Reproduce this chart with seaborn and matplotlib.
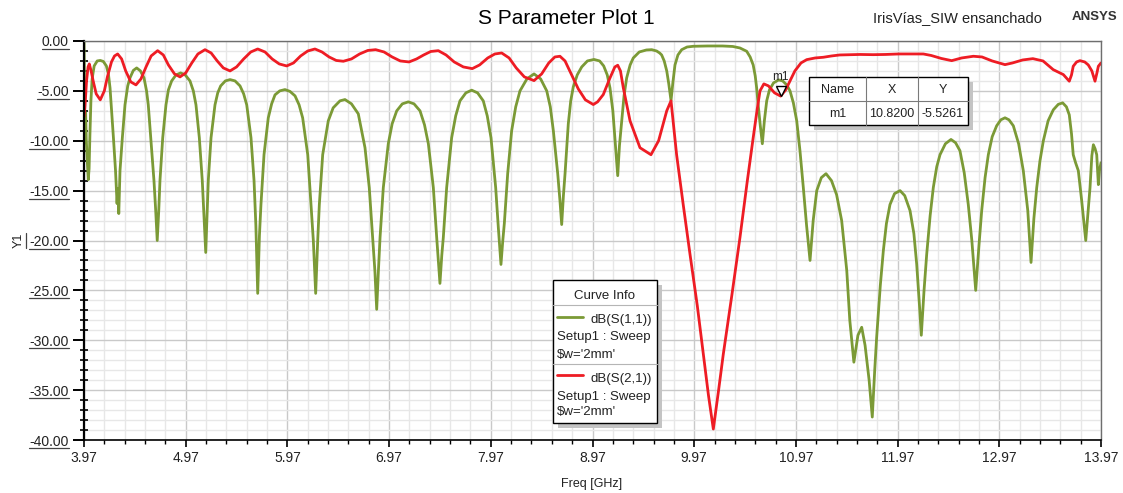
import matplotlib
matplotlib.use("Agg")
import matplotlib.pyplot as plt
import matplotlib.transforms as mtransforms
from matplotlib.lines import Line2D
from matplotlib.patches import Rectangle
from matplotlib.ticker import FixedLocator, MultipleLocator
import pandas as pd
import seaborn as sns

# ---------------------------------------------------------------- data
s11_freq = [
    3.970, 3.975, 3.980, 3.986, 3.992, 4.002, 4.012, 4.020, 4.028, 4.038,
    4.050, 4.070, 4.100, 4.130, 4.160, 4.190, 4.210, 4.226, 4.245, 4.260,
    4.280, 4.295, 4.302, 4.312, 4.324, 4.347, 4.373, 4.400, 4.422, 4.455,
    4.488, 4.525, 4.560, 4.585, 4.602, 4.626, 4.658, 4.675, 4.690, 4.705,
    4.717, 4.744, 4.776, 4.800, 4.832, 4.875, 4.920, 4.965, 5.012, 5.045,
    5.071, 5.104, 5.133, 5.150, 5.167, 5.180, 5.192, 5.219, 5.258, 5.285,
    5.314, 5.360, 5.406, 5.455, 5.504, 5.540, 5.570, 5.612, 5.642, 5.660,
    5.678, 5.695, 5.710, 5.740, 5.782, 5.815, 5.848, 5.895, 5.946, 5.995,
    6.045, 6.085, 6.120, 6.170, 6.202, 6.225, 6.248, 6.268, 6.284, 6.317,
    6.372, 6.420, 6.487, 6.536, 6.600, 6.667, 6.733, 6.775, 6.808, 6.830,
    6.848, 6.865, 6.881, 6.913, 6.962, 7.000, 7.045, 7.100, 7.159, 7.215,
    7.274, 7.318, 7.356, 7.405, 7.438, 7.470, 7.488, 7.503, 7.536, 7.585,
    7.625, 7.667, 7.725, 7.782, 7.840, 7.896, 7.935, 7.972, 8.018, 8.044,
    8.070, 8.088, 8.103, 8.136, 8.175, 8.215, 8.257, 8.325, 8.395, 8.460,
    8.520, 8.555, 8.585, 8.628, 8.650, 8.667, 8.684, 8.700, 8.732, 8.756,
    8.781, 8.820, 8.864, 8.920, 8.985, 9.040, 9.080, 9.115, 9.142, 9.170,
    9.190, 9.208, 9.218, 9.235, 9.257, 9.280, 9.306, 9.340, 9.371, 9.430,
    9.500, 9.552, 9.600, 9.630, 9.650, 9.675, 9.700, 9.720, 9.742, 9.760,
    9.781, 9.810, 9.847, 9.900, 9.961, 10.100, 10.250, 10.350, 10.420, 10.486,
    10.520, 10.550, 10.570, 10.584, 10.600, 10.620, 10.640, 10.660, 10.683, 10.710,
    10.750, 10.800, 10.840, 10.880, 10.912, 10.945, 10.978, 11.010, 11.043, 11.075,
    11.109, 11.140, 11.175, 11.220, 11.266, 11.320, 11.370, 11.420, 11.470, 11.500,
    11.540, 11.580, 11.617, 11.650, 11.690, 11.721, 11.745, 11.764, 11.800, 11.830,
    11.860, 11.895, 11.940, 11.994, 12.040, 12.092, 12.130, 12.158, 12.185, 12.203,
    12.230, 12.256, 12.290, 12.321, 12.355, 12.387, 12.440, 12.495, 12.540, 12.583,
    12.625, 12.665, 12.700, 12.738, 12.770, 12.797, 12.830, 12.862, 12.900, 12.944,
    12.985, 13.026, 13.065, 13.108, 13.160, 13.206, 13.250, 13.282, 13.310, 13.338,
    13.370, 13.403, 13.450, 13.501, 13.550, 13.593, 13.630, 13.658, 13.680, 13.697,
    13.720, 13.747, 13.780, 13.820, 13.840, 13.862, 13.880, 13.895, 13.912, 13.928,
    13.944, 13.955, 13.970,
]
s11_db = [
    0.00, -4.50, -10.20, -7.20, -9.80, -12.00, -13.90, -12.80, -9.50, -6.00,
    -3.80, -2.50, -2.00, -1.95, -2.05, -2.50, -3.30, -4.70, -7.50, -9.80,
    -13.00, -16.30, -14.80, -17.30, -13.00, -9.70, -6.40, -4.50, -3.70, -2.95,
    -2.70, -3.00, -3.70, -5.00, -6.40, -9.70, -14.00, -17.00, -20.00, -17.00,
    -14.00, -9.70, -6.40, -4.90, -4.00, -3.40, -3.20, -3.40, -4.00, -5.00,
    -6.40, -9.70, -14.00, -17.50, -21.20, -17.50, -14.00, -9.70, -6.40, -5.20,
    -4.50, -4.00, -3.87, -4.00, -4.50, -5.30, -6.40, -9.70, -14.00, -18.50,
    -25.30, -19.50, -16.40, -11.40, -7.70, -6.30, -5.40, -5.00, -4.87, -5.05,
    -5.50, -6.40, -7.70, -11.40, -16.40, -20.00, -25.30, -20.00, -16.40, -11.40,
    -8.00, -6.70, -6.00, -5.87, -6.30, -7.30, -10.70, -14.70, -19.70, -23.00,
    -26.90, -23.00, -19.70, -14.70, -10.30, -8.30, -7.00, -6.30, -6.10, -6.30,
    -7.00, -8.40, -10.30, -14.70, -19.70, -24.30, -21.50, -19.70, -14.70, -9.70,
    -7.50, -6.00, -5.20, -4.93, -5.20, -6.00, -7.50, -9.70, -14.70, -18.70,
    -22.40, -20.00, -18.30, -13.30, -9.00, -6.60, -5.00, -3.80, -3.30, -3.80,
    -5.00, -6.60, -9.00, -13.30, -16.00, -18.40, -15.50, -13.30, -8.30, -6.00,
    -4.60, -3.40, -2.60, -2.00, -1.85, -2.00, -2.50, -3.40, -4.70, -7.00,
    -9.70, -12.00, -13.50, -10.50, -8.00, -5.50, -3.70, -2.40, -1.70, -1.10,
    -0.90, -0.87, -1.00, -1.20, -1.40, -2.00, -3.00, -4.30, -5.97, -4.20,
    -2.40, -1.40, -0.87, -0.60, -0.53, -0.50, -0.50, -0.55, -0.70, -1.03,
    -1.60, -2.40, -3.50, -4.70, -6.50, -8.50, -10.30, -8.00, -6.00, -4.90,
    -4.20, -3.90, -4.00, -4.40, -5.00, -6.20, -8.00, -11.00, -14.70, -18.50,
    -22.00, -18.00, -15.00, -13.70, -13.30, -14.00, -15.40, -18.00, -23.00, -28.00,
    -32.20, -29.50, -28.70, -30.50, -34.00, -37.70, -33.00, -29.70, -24.50, -21.00,
    -18.30, -16.40, -15.30, -15.00, -15.50, -17.00, -19.30, -22.40, -26.50, -29.50,
    -25.00, -21.40, -17.50, -14.70, -12.60, -11.40, -10.30, -9.87, -10.20, -11.00,
    -13.20, -16.40, -20.00, -25.00, -20.50, -17.00, -13.70, -11.40, -9.60, -8.50,
    -7.90, -7.70, -7.90, -8.50, -10.30, -13.00, -17.00, -22.20, -17.80, -14.70,
    -12.00, -10.00, -8.00, -6.90, -6.35, -6.20, -6.60, -7.40, -9.30, -11.40,
    -12.20, -13.00, -16.00, -20.00, -17.50, -14.70, -11.50, -10.40, -10.80, -11.40,
    -14.40, -13.00, -12.20,
]

s21_freq = [
    3.970, 3.980, 3.995, 4.010, 4.022, 4.040, 4.060, 4.090, 4.130, 4.170,
    4.200, 4.240, 4.270, 4.301, 4.340, 4.380, 4.430, 4.481, 4.530, 4.580,
    4.630, 4.694, 4.750, 4.800, 4.860, 4.914, 4.970, 5.030, 5.090, 5.160,
    5.220, 5.280, 5.340, 5.406, 5.470, 5.540, 5.610, 5.678, 5.750, 5.820,
    5.890, 5.963, 6.030, 6.100, 6.170, 6.241, 6.310, 6.380, 6.450, 6.520,
    6.600, 6.680, 6.760, 6.838, 6.920, 7.000, 7.080, 7.166, 7.240, 7.310,
    7.380, 7.454, 7.530, 7.610, 7.700, 7.788, 7.860, 7.940, 8.010, 8.077,
    8.150, 8.220, 8.300, 8.395, 8.470, 8.540, 8.600, 8.650, 8.700, 8.760,
    8.830, 8.900, 8.978, 9.020, 9.076, 9.142, 9.190, 9.218, 9.245, 9.273,
    9.339, 9.437, 9.545, 9.620, 9.700, 9.742, 9.797, 9.862, 9.929, 10.000,
    10.060, 10.110, 10.158, 10.210, 10.256, 10.340, 10.420, 10.490, 10.550, 10.590,
    10.617, 10.655, 10.700, 10.760, 10.820, 10.870, 10.912, 10.960, 11.020, 11.076,
    11.160, 11.240, 11.320, 11.400, 11.500, 11.600, 11.730, 11.850, 11.980, 12.100,
    12.223, 12.300, 12.400, 12.502, 12.600, 12.715, 12.800, 12.900, 13.026, 13.100,
    13.200, 13.300, 13.400, 13.500, 13.600, 13.658, 13.680, 13.697, 13.730, 13.763,
    13.810, 13.845, 13.880, 13.911, 13.930, 13.944, 13.970,
]
s21_db = [
    -7.60, -6.50, -4.00, -2.60, -2.30, -3.00, -4.00, -5.30, -5.90, -5.00,
    -3.60, -2.10, -1.50, -1.30, -1.80, -3.00, -4.10, -4.40, -3.80, -2.60,
    -1.50, -0.97, -1.40, -2.40, -3.30, -3.60, -3.20, -2.20, -1.30, -0.87,
    -1.20, -2.00, -2.70, -3.00, -2.60, -1.80, -1.10, -0.80, -1.10, -1.80,
    -2.30, -2.50, -2.20, -1.50, -1.00, -0.80, -1.10, -1.60, -1.95, -2.03,
    -1.80, -1.30, -0.95, -0.87, -1.10, -1.60, -2.00, -2.10, -1.80, -1.40,
    -1.05, -0.97, -1.40, -2.10, -2.60, -2.77, -2.40, -1.70, -1.30, -1.20,
    -1.70, -2.70, -3.60, -3.97, -3.30, -2.20, -1.60, -1.53, -2.00, -3.30,
    -4.80, -5.90, -6.37, -6.10, -5.37, -3.70, -2.60, -2.43, -3.00, -4.70,
    -8.00, -10.70, -11.40, -10.00, -7.00, -6.00, -11.40, -16.40, -21.40, -26.50,
    -31.40, -35.50, -38.90, -35.00, -31.40, -25.50, -19.70, -14.20, -9.70, -6.80,
    -5.00, -4.30, -4.50, -5.20, -5.5261, -4.90, -4.00, -3.00, -2.20, -1.87,
    -1.70, -1.63, -1.50, -1.40, -1.37, -1.35, -1.37, -1.35, -1.30, -1.30,
    -1.30, -1.45, -1.75, -1.97, -1.70, -1.53, -1.60, -2.00, -2.37, -2.20,
    -1.90, -1.77, -2.00, -2.87, -3.37, -4.03, -3.40, -2.53, -2.10, -1.97,
    -2.10, -2.40, -3.00, -4.03, -3.20, -2.53, -2.20,
]

curve_names = ["dB(S(1,1))", "dB(S(2,1))"]
curve_colors = ["#7b9a36", "#ee1c24"]
setup_text = "Setup1 : Sweep"
param_text = "$w='2mm'"

marker_name = "m1"
marker_freq = 10.82
marker_db = -5.5261

x_ticks = [3.97, 4.97, 5.97, 6.97, 7.97, 8.97, 9.97, 10.97, 11.97, 12.97, 13.97]
x_tick_labels = ["3.97", "4.97", "5.97", "6.97", "7.97", "8.97", "9.97",
                 "10.97", "11.97", "12.97", "13.97"]
y_ticks = [0, -5, -10, -15, -20, -25, -30, -35, -40]
y_tick_labels = ["0.00", "-5.00", "-10.00", "-15.00", "-20.00", "-25.00",
                 "-30.00", "-35.00", "-40.00"]

title_text = "S Parameter Plot 1"
design_text = "IrisVías_SIW ensanchado"
brand_text = "ANSYS"

# ---------------------------------------------------------------- style
sns.set_theme(style="white")
plt.rcParams["font.family"] = ["Liberation Sans", "DejaVu Sans"]
plt.rcParams["axes.unicode_minus"] = False

W, H = 1123, 493
fig = plt.figure(figsize=(W / 100, H / 100), dpi=100)
fig.patch.set_facecolor("white")


def fx(px):
    return px / W


def fy(py):
    return 1 - py / H


ax = fig.add_axes([fx(84), fy(440), (1101 - 84) / W, (440 - 41) / H])
ax.set_facecolor("white")

df = pd.concat([
    pd.DataFrame({"Freq": s11_freq, "dB": s11_db, "curve": curve_names[0]}),
    pd.DataFrame({"Freq": s21_freq, "dB": s21_db, "curve": curve_names[1]}),
], ignore_index=True)

sns.lineplot(data=df, x="Freq", y="dB", hue="curve", hue_order=curve_names,
             palette=curve_colors, estimator=None, sort=False,
             linewidth=2.0, legend=False, ax=ax)

ax.set_xlim(x_ticks[0], x_ticks[-1])
ax.set_ylim(y_ticks[-1], y_ticks[0])

ax.xaxis.set_major_locator(FixedLocator(x_ticks))
ax.set_xticklabels(x_tick_labels)
ax.xaxis.set_minor_locator(FixedLocator(
    [t + 0.2 * k for t in x_ticks[:-1] for k in range(1, 5)]))
ax.yaxis.set_major_locator(FixedLocator(y_ticks))
ax.set_yticklabels(y_tick_labels)
ax.yaxis.set_minor_locator(MultipleLocator(1))

ax.grid(which="major", color="#c9c9c9", linewidth=1.0)
ax.grid(which="minor", color="#e7e7e7", linewidth=1.0)
ax.set_axisbelow(True)

ax.tick_params(axis="y", which="major", direction="out", length=8, width=1.4,
               color="black", labelsize=10, labelcolor="#222222", pad=3,
               left=True)
ax.tick_params(axis="y", which="minor", direction="inout", length=6, width=1.2,
               color="black", left=True)
ax.tick_params(axis="x", which="major", direction="out", length=5, width=1.2,
               color="black", labelsize=10, labelcolor="#222222", pad=3,
               bottom=True)
ax.tick_params(axis="x", which="minor", direction="out", length=3, width=1.0,
               color="black", bottom=True)

for side in ("left", "bottom"):
    ax.spines[side].set_color("black")
ax.spines["left"].set_linewidth(1.6)
ax.spines["bottom"].set_linewidth(1.2)
for side in ("top", "right"):
    ax.spines[side].set_color("#6e6e6e")
    ax.spines[side].set_linewidth(1.0)

ax.set_xlabel("Freq [GHz]", fontsize=9, color="#222222")
ax.set_ylabel("Y1", fontsize=9, color="#222222")
ax.xaxis.set_label_coords((592 - 84) / 1017, (440 - 478) / 399)
ax.yaxis.set_label_coords((25 - 84) / 1017, 0.5)

# marker m1 on the S21 trace
tri_tf = mtransforms.offset_copy(ax.transData, fig=fig, y=3.8, units="points")
ax.plot([marker_freq], [marker_db], marker="v", markersize=7.5,
        markerfacecolor="white", markeredgecolor="black",
        markeredgewidth=1.0, linestyle="none", transform=tri_tf, zorder=5)
ax.annotate(marker_name, (marker_freq, marker_db), xytext=(0, 13.5),
            textcoords="offset points", ha="center", va="center",
            fontsize=8.5, color="#222222", zorder=6)

# titles
fig.text(fx(566), fy(19), title_text, ha="center", va="center", fontsize=15,
         color="black")
fig.text(fx(957), fy(18), design_text, ha="center", va="center",
         fontsize=10.5, color="#222222")
fig.text(fx(1094), fy(17), brand_text, ha="center", va="center",
         fontsize=9.5, fontweight="bold", color="#333333")


def box(x0, y0, x1, y1, **kw):
    r = Rectangle((fx(x0), fy(y1)), fx(x1) - fx(x0), fy(y0) - fy(y1),
                  transform=fig.transFigure, **kw)
    fig.add_artist(r)
    return r


def hline(x0, x1, y, **kw):
    fig.add_artist(Line2D([fx(x0), fx(x1)], [fy(y), fy(y)],
                          transform=fig.transFigure, **kw))


def vline(x, y0, y1, **kw):
    fig.add_artist(Line2D([fx(x), fx(x)], [fy(y0), fy(y1)],
                          transform=fig.transFigure, **kw))


# curve info box
box(558, 285, 662, 428, facecolor="#c4c4c4", edgecolor="none", zorder=8)
box(553, 280, 657, 423, facecolor="white", edgecolor="black", linewidth=1.0,
    zorder=9)
fig.text(fx(605), fy(296), "Curve Info", ha="center", va="center",
         fontsize=9.5, color="#222222", zorder=10)
hline(553, 657, 305, color="#b5b5b5", linewidth=0.8, zorder=10)
hline(553, 657, 364, color="#b5b5b5", linewidth=0.8, zorder=10)
for (line_y, name_y, setup_y, param_y), name, color in zip(
        [(317, 320, 337, 355), (375, 379, 397, 412)], curve_names,
        curve_colors):
    hline(557, 583, line_y, color=color, linewidth=2.0, zorder=10)
    fig.text(fx(652), fy(name_y), name, ha="right", va="center",
             fontsize=9.5, color="#222222", zorder=10)
    fig.text(fx(557), fy(setup_y), setup_text, ha="left", va="center",
             fontsize=9.5, color="#222222", zorder=10)
    fig.text(fx(557), fy(param_y), param_text, ha="left", va="center",
             fontsize=9.5, color="#222222", zorder=10)

# marker table
box(814, 82, 973, 130, facecolor="#c4c4c4", edgecolor="none", zorder=8)
box(809, 77, 968, 125, facecolor="white", edgecolor="black", linewidth=1.0,
    zorder=9)
hline(809, 968, 101, color="#7a7a7a", linewidth=0.8, zorder=10)
vline(866, 77, 125, color="#7a7a7a", linewidth=0.8, zorder=10)
vline(918, 77, 125, color="#7a7a7a", linewidth=0.8, zorder=10)
col_centers = [837.5, 892, 943]
for cx, head, val in zip(col_centers, ["Name", "X", "Y"],
                         [marker_name, f"{marker_freq:.4f}",
                          f"{marker_db:.4f}"]):
    fig.text(fx(cx), fy(90), head, ha="center", va="center", fontsize=9,
             color="#222222", zorder=10)
    fig.text(fx(cx), fy(114), val, ha="center", va="center", fontsize=9,
             color="#222222", zorder=10)

# underline the value-axis labels
fig.canvas.draw()
renderer = fig.canvas.get_renderer()
ident = mtransforms.IdentityTransform()
for lab in ax.get_yticklabels():
    bb = lab.get_window_extent(renderer)
    fig.add_artist(Line2D([bb.x0, bb.x1], [bb.y0 + 0.5, bb.y0 + 0.5],
                          transform=ident, color="#444444", linewidth=0.9))
bb = ax.yaxis.label.get_window_extent(renderer)
fig.add_artist(Line2D([bb.x1 + 0.5, bb.x1 + 0.5], [bb.y0, bb.y1],
                      transform=ident, color="#444444", linewidth=0.9))

fig.savefig("out.png", dpi=100, facecolor="white")
